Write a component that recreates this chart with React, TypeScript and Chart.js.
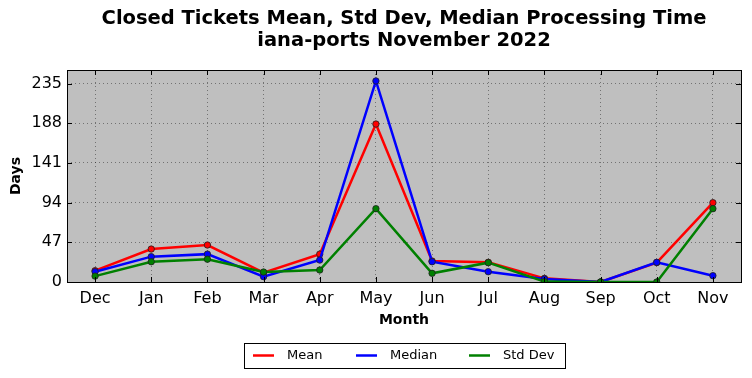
import React, { useEffect, useRef } from "react";
import { Chart, registerables } from "chart.js";

Chart.register(...registerables);

const months = ["Dec", "Jan", "Feb", "Mar", "Apr", "May", "Jun", "Jul", "Aug", "Sep", "Oct", "Nov"];
const meanValues = [13.4, 39, 43.8, 11, 33, 187, 24.8, 23.3, 4.3, 0, 23, 93.9];
const medianValues = [12.2, 30, 33, 6.3, 26, 238, 24, 12.2, 3.5, 0, 23.3, 7.5];
const stdDevValues = [7, 24, 27, 11.8, 14.2, 86.8, 10.3, 22.9, 0.5, 0, 0, 86.8];
const yTicks = [0, 47, 94, 141, 188, 235];
const yMax = 251;
const titleLines = ["Closed Tickets Mean, Std Dev, Median Processing Time", "iana-ports November 2022"];
const xTitle = "Month";
const yTitle = "Days";
const legendItems = [
  { label: "Mean", color: "#ff0000" },
  { label: "Median", color: "#0000ff" },
  { label: "Std Dev", color: "#008000" },
];

const FONT = "'DejaVu Sans', sans-serif";

const decorPlugin = {
  id: "decor",
  beforeDraw(chart: any) {
    const { ctx, chartArea: a } = chart;
    ctx.save();
    ctx.fillStyle = "#bfbfbf";
    ctx.fillRect(a.left, a.top, a.right - a.left, a.bottom - a.top);
    ctx.restore();
  },
  afterDraw(chart: any) {
    const { ctx, chartArea: a } = chart;
    const xs = chart.scales.x;
    const ys = chart.scales.y;
    ctx.save();
    // border
    ctx.strokeStyle = "#000";
    ctx.lineWidth = 1;
    ctx.strokeRect(Math.round(a.left) + 0.5, Math.round(a.top) + 0.5, Math.round(a.right - a.left), Math.round(a.bottom - a.top));
    // inside ticks
    ctx.beginPath();
    for (let i = 0; i < months.length; i++) {
      const x = Math.round(xs.getPixelForValue(i)) + 0.5;
      ctx.moveTo(x, a.bottom);
      ctx.lineTo(x, a.bottom - 5);
      ctx.moveTo(x, a.top);
      ctx.lineTo(x, a.top + 5);
    }
    for (const v of yTicks) {
      const y = Math.round(ys.getPixelForValue(v)) + 0.5;
      ctx.moveTo(a.left, y);
      ctx.lineTo(a.left + 5, y);
      ctx.moveTo(a.right, y);
      ctx.lineTo(a.right - 5, y);
    }
    ctx.stroke();
    const cx = (a.left + a.right) / 2;
    ctx.fillStyle = "#000";
    ctx.textAlign = "center";
    ctx.textBaseline = "middle";
    // title
    ctx.font = `bold 19.5px ${FONT}`;
    ctx.fillText(titleLines[0], cx, 19);
    ctx.fillText(titleLines[1], cx, 41);
    // axis titles
    ctx.font = `bold 14px ${FONT}`;
    ctx.fillText(xTitle, cx, 320);
    ctx.save();
    ctx.translate(16, (a.top + a.bottom) / 2);
    ctx.rotate(-Math.PI / 2);
    ctx.fillText(yTitle, 0, 0);
    ctx.restore();
    // legend
    const lx0 = 244, lx1 = 565, ly0 = 343, ly1 = 368;
    ctx.fillStyle = "#fff";
    ctx.fillRect(lx0, ly0, lx1 - lx0, ly1 - ly0);
    ctx.strokeStyle = "#000";
    ctx.lineWidth = 1;
    ctx.strokeRect(lx0 + 0.5, ly0 + 0.5, lx1 - lx0, ly1 - ly0);
    const starts = [253, 356, 469];
    ctx.font = `13px ${FONT}`;
    ctx.textAlign = "left";
    legendItems.forEach((it, i) => {
      const sx = starts[i];
      const ly = 355.5;
      ctx.strokeStyle = it.color;
      ctx.lineWidth = 2.5;
      ctx.beginPath();
      ctx.moveTo(sx, ly);
      ctx.lineTo(sx + 21, ly);
      ctx.stroke();
      ctx.fillStyle = "#000";
      ctx.fillText(it.label, sx + 34, ly);
    });
    ctx.restore();
  },
};

export default function App() {
  const ref = useRef<HTMLCanvasElement | null>(null);
  useEffect(() => {
    if (!ref.current) return;
    const mk = (label: string, data: number[], color: string, order: number) => ({
      label,
      data,
      borderColor: color,
      backgroundColor: color,
      borderWidth: 2.5,
      pointRadius: 3.2,
      pointBorderWidth: 0.8,
      pointBorderColor: "#202020",
      pointBackgroundColor: color,
      tension: 0,
      order,
    });
    const chart = new Chart(ref.current, {
      type: "line",
      data: {
        labels: months,
        datasets: [
          mk("Mean", meanValues, "#ff0000", 3),
          mk("Median", medianValues, "#0000ff", 2),
          mk("Std Dev", stdDevValues, "#008000", 1),
        ],
      },
      plugins: [decorPlugin],
      options: {
        animation: false,
        responsive: false,
        devicePixelRatio: 1,
        layout: { padding: { top: 70, right: 11, left: 0, bottom: 0 } },
        plugins: {
          legend: { display: false },
          title: { display: false },
          tooltip: { enabled: false },
        },
        scales: {
          x: {
            type: "category",
            offset: true,
            grid: {
              offset: false,
              drawTicks: false,
              color: "rgba(0,0,0,0.4)",
              lineWidth: 1,
            },
            border: { display: false, dash: [1, 3] },
            ticks: { color: "#000", font: { family: FONT, size: 16 }, padding: 7, maxRotation: 0, autoSkip: false },
            afterFit: (s: any) => { s.height = 378 - 282; },
          },
          y: {
            min: 0,
            max: yMax,
            grid: { drawTicks: false, color: "rgba(0,0,0,0.4)", lineWidth: 1 },
            border: { display: false, dash: [1, 3] },
            afterBuildTicks: (s: any) => { s.ticks = yTicks.map((v) => ({ value: v })); },
            ticks: { color: "#000", font: { family: FONT, size: 16 }, padding: 5 },
            afterFit: (s: any) => { s.width = 67; },
          },
        },
      } as any,
    });
    return () => chart.destroy();
  }, []);
  return (
    <div style={{ position: "fixed", left: 0, top: 0, width: 752, height: 378, background: "#fff" }}>
      <canvas ref={ref} width={752} height={378} style={{ width: 752, height: 378, display: "block" }} />
    </div>
  );
}
